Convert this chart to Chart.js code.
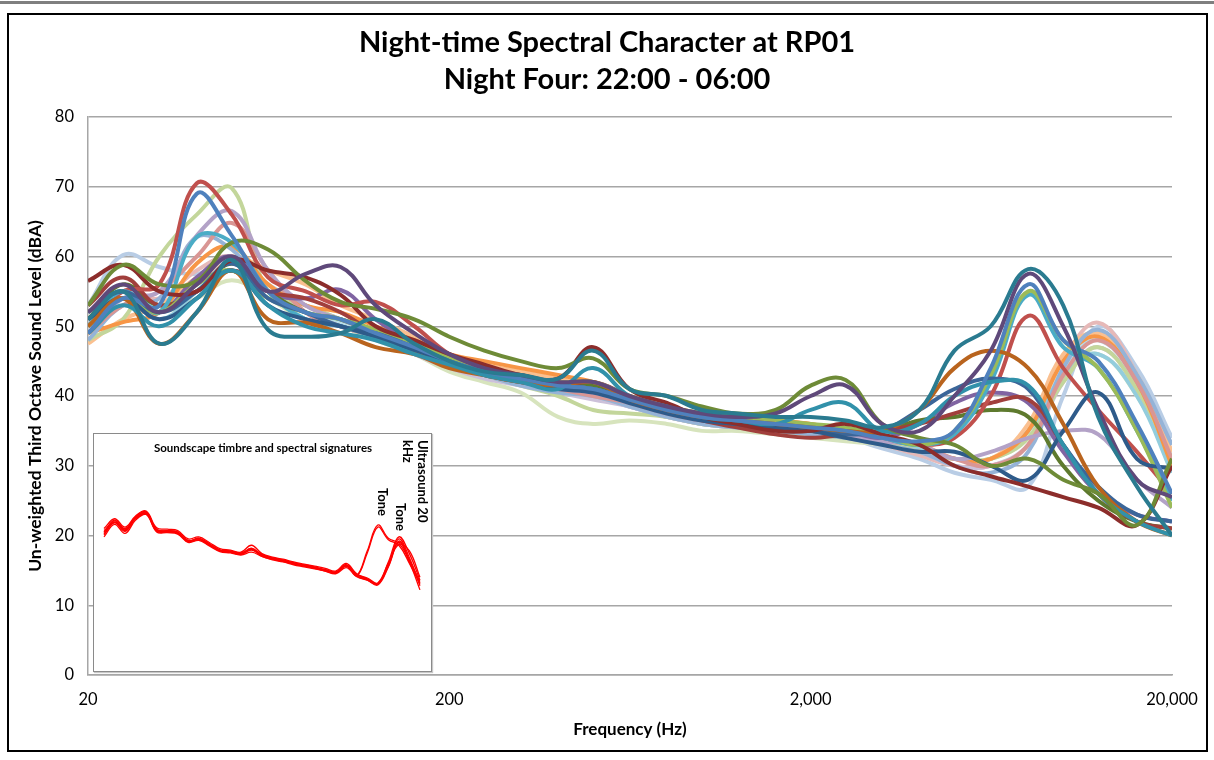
<!DOCTYPE html>
<html>
<head>
<meta charset="utf-8">
<script src="https://cdn.jsdelivr.net/npm/chart.js@4.4.1/dist/chart.umd.min.js"></script>
<style>
body{margin:0;background:#fff;}
#wrap{position:relative;width:1214px;height:760px;overflow:hidden;background:#fff;}
#topbar{position:absolute;left:0;top:1px;width:1214px;height:3px;background:#7f7f7f;}
#frame{position:absolute;left:7px;top:13px;width:1201px;height:739px;border:2px solid #000;box-sizing:border-box;pointer-events:none;}
#inset{position:absolute;left:93px;top:433px;width:339px;height:239px;border:1px solid #8a8a8a;box-sizing:border-box;background:#fff;box-shadow:1px 1px 1px #c8c8c8;}
#inset canvas, #main{display:block;}
</style>
</head>
<body>
<div id="wrap">
	<canvas id="main" width="1214" height="760"></canvas>
	<div id="inset"><canvas id="insetCanvas" width="337" height="237"></canvas></div>
	<div id="topbar"></div>
	<div id="frame"></div>
</div>
<script>
/*	Night-time spectral character, RP01 - night four
 *	third octave levels, one line per period
*/

const FONT = "Lato, 'Liberation Sans', sans-serif";

// third octave band centres (Hz)
const bands = [20, 25, 31.5, 40, 50, 63, 80, 100, 125, 160, 200, 250, 315, 400, 500, 630, 800, 1000, 1250, 1600, 2000, 2500, 3150, 4000, 5000, 6300, 8000, 10000, 12500, 16000, 20000];
const xTicks = [20, 200, 2000, 20000];

// levels, dB
const tealDark    = [51, 55, 47.5, 52, 59.5, 49.5, 48.5, 49, 51, 47.5, 45, 43.5, 43, 42.5, 46.5, 41, 40, 38, 37.5, 37, 37, 36.5, 35.5, 38, 46.5, 50, 58.2, 53, 37, 27, 20];
const tealMid     = [49, 53, 50, 54, 58, 53, 50, 49, 48, 46, 44.5, 43, 42, 41, 44, 40, 38.5, 37, 36.5, 36, 38, 39, 35, 36, 40, 42, 41.5, 33, 26, 22, 20];
const purpleDark  = [52, 56, 52, 56, 60, 55, 57.5, 58.5, 53, 49, 46, 44, 43, 42, 42, 40, 38.5, 37.5, 37, 37.5, 40, 41.5, 36, 35, 40, 46.5, 57.5, 50, 38, 28, 25.5];
const blueMain    = [49, 54, 53, 69, 63, 55, 52, 51, 49, 47, 45, 43.5, 42.5, 41.5, 41, 39.5, 38, 37, 36.5, 36, 35.5, 35, 34, 33.5, 35, 44, 56, 48, 45, 36, 26];
const greenMain   = [50, 54, 52, 56, 58, 54, 52, 51, 49.5, 47.5, 45.5, 44, 43, 42, 42, 40, 38.5, 37.5, 37, 36.5, 36, 35.5, 34.5, 33, 35, 43, 55, 48, 44, 35, 24];
const aquaMain    = [50, 55, 52, 62.8, 62, 55, 51, 50, 48.5, 47, 45, 43.5, 42.5, 41.5, 41, 39.5, 38, 37, 36.5, 36, 35.5, 35, 34, 33, 34.5, 42, 54.5, 47, 44, 35, 25];
const redMain     = [50, 55, 56, 70.5, 66, 57, 55, 53, 53.5, 50, 46, 44, 42.5, 41.5, 41, 39.5, 38, 37, 36.5, 36, 35.5, 35, 34, 33, 34, 40, 51.5, 44, 38, 32, 26];
const greenLight  = [48, 51, 60, 66, 69.8, 55, 53, 51, 49, 46.5, 44.5, 43, 41.5, 40, 38, 37.5, 37, 36, 35.5, 35, 34.5, 34, 33.5, 32, 31, 31, 34, 42, 47, 41, 31];
const orangeDark  = [50, 54, 47.5, 52, 58, 51, 50.5, 49, 47, 46, 44, 43, 42, 41.5, 42, 39.5, 38, 37, 36.5, 36, 35.5, 35, 35, 38, 44, 46.5, 44, 36, 27, 22, 20];
const navy        = [51, 54, 51, 54, 58, 53, 51, 50, 48.5, 46.5, 44.5, 43, 42, 41, 40.5, 39, 37.5, 36.5, 36, 35.5, 35, 34, 33, 32, 32, 30, 28, 35, 40.5, 31, 29.5];
const blueDark    = [52, 55, 52, 55, 59, 54, 52, 50, 49, 47, 45, 43.5, 42.5, 41.5, 41, 39.5, 38, 37, 36, 35.5, 35, 34.5, 35, 38, 41, 42.5, 41, 33, 27, 23, 22];
const redDark     = [56.5, 58.8, 55, 55, 59.5, 58, 57, 54.5, 50, 48, 46, 44.5, 43, 42.5, 47, 41, 39, 37, 36, 35, 35, 36, 34.5, 33, 30, 28.5, 27, 25.5, 24, 21.5, 30];
const redDark2    = [53, 57, 53, 55, 58, 55, 54, 52, 49, 47, 45, 43.5, 42.5, 41.5, 42, 40, 38, 36.5, 35.5, 34.5, 34, 34.5, 35, 36, 37.5, 39, 39.5, 33, 26, 22, 21];
const greenDark   = [53, 58.8, 56, 56.5, 62, 61, 56.5, 53.5, 52.5, 51, 48.5, 46.5, 45, 44, 45.4, 41, 40, 38.5, 37.5, 38, 41.5, 42.3, 36, 34, 33, 30, 31, 28, 26, 21.5, 31];
const greenOlive  = [51, 56, 53, 55, 59, 55, 52, 51, 49, 47, 45, 43.5, 42.5, 41.5, 41.5, 39.5, 38, 37, 36, 35.5, 35, 35, 35, 36.5, 37, 38, 37, 30, 25, 22, 21];
const purpleMain  = [50, 54, 52, 57, 60, 55, 54, 55.2, 51, 47.5, 45, 43.5, 42.5, 41.5, 41, 39.5, 38, 37, 36.5, 36, 35.5, 35, 34, 36, 39, 40.5, 39, 32, 26, 23, 22];
const purpleLight = [49, 54, 55, 63, 66.5, 58, 53, 51, 49, 47, 45, 43.5, 42, 41, 40.5, 39, 37.5, 36.5, 36, 35.5, 35, 34.5, 33.5, 33, 31, 32, 34, 35, 34.5, 28, 24];
const redLight    = [49, 53, 55, 60, 64.8, 58, 52, 50, 48.5, 46.5, 44.5, 43, 42, 41, 40, 39, 37.5, 36.5, 36, 35.5, 35, 34.5, 33.5, 33, 31, 30, 33, 43, 48, 42, 31];
const blueLight   = [48, 53, 54, 62.8, 61, 55, 52, 50, 48.5, 46.5, 44.5, 43, 41.5, 40.5, 40, 38.5, 37, 36, 35.5, 35, 34.5, 34, 33, 32, 30, 29, 32, 44, 49.5, 43, 33];
const orangeMain  = [49, 50.6, 52, 59, 61.4, 56, 53, 52, 50, 48, 46, 45, 44, 43, 42, 40, 38.5, 37.5, 37, 36.5, 36, 35, 34, 33, 31, 31, 35, 45, 48.5, 42, 30];
const orangeLight = [47.5, 51, 53, 57, 60, 58, 56, 53, 51, 48.5, 46, 44.5, 43.5, 42.5, 41.5, 40, 38.5, 37.5, 37, 36.5, 36, 35, 33.5, 32, 31, 31, 36, 46, 49, 43, 32];
const aquaLight   = [50, 55, 51, 55, 59, 55, 51, 50, 48.5, 46.5, 44.5, 43, 42, 41, 40.5, 39, 37.5, 36.5, 36, 35.5, 35, 34.5, 33.5, 32.5, 31, 31, 35, 43, 46, 40, 29];
const peachPale   = [50, 54, 52, 56, 59, 55, 52, 50, 48.5, 46.5, 44.5, 43.5, 43, 42, 41, 39.5, 38, 37, 36.5, 36, 35, 34, 33, 32, 31, 31, 35, 45, 49, 43, 32];
const aquaPale    = [51, 55, 53, 56, 59, 55, 52, 50.5, 49, 46.5, 44.5, 43, 42, 41, 40.5, 39, 37.5, 36.5, 36, 35.5, 35, 34, 33, 32, 31, 31, 35, 44, 48, 42, 31];
const purplePale  = [50, 54, 53, 55, 58, 55, 52, 50, 48.5, 46, 44, 42.5, 41.5, 40.5, 39.5, 38.5, 37, 36, 35.5, 35, 34.5, 34, 33, 32, 30, 30, 33, 42, 47, 41, 30];
const greenPale   = [49, 53, 52, 54, 56.6, 54, 51, 50, 48, 46, 43.5, 42, 40.5, 37, 36, 36.5, 36, 35, 35, 34.5, 34, 33.5, 33, 32, 31, 31, 34, 43, 46, 40, 30];
const pinkPale    = [50, 55, 54, 58, 60, 56, 52, 50, 48.5, 46.5, 44.5, 43, 42, 41, 40, 38.5, 37, 36, 35.5, 35, 34.5, 34, 33, 31.5, 30, 30, 33, 45, 50.5, 43, 31];
const bluePale    = [53, 60.2, 58.5, 57.5, 59.5, 56, 53, 51, 49, 47, 45, 43.5, 42, 41, 40, 38.5, 37, 36, 35.5, 35, 34.5, 34, 32.5, 31, 29, 28, 27, 40, 50, 44, 34];

// inset: band index 0..30 (20 Hz - 20 kHz), levels read on the main axis
const insetIndex = [0, 1, 2, 3, 4, 5, 6, 7, 8, 9, 10, 11, 12, 13, 14, 15, 16, 17, 18, 19, 20, 21, 22, 23, 24, 25, 26, 27, 28, 29, 30];
const insetLow1  = [20.4, 22.1, 20.8, 22.6, 23.3, 20.8, 20.7, 20.5, 19.2, 19.6, 18.8, 17.9, 17.7, 17.4, 18.2, 17.2, 16.7, 16.4, 16.0, 15.7, 15.4, 15.1, 14.7, 15.8, 14.3, 13.7, 13.0, 15.8, 19.5, 16.8, 12.8];
const insetLow2  = [19.8, 21.6, 20.3, 22.2, 23.0, 20.5, 20.4, 20.2, 19.0, 19.3, 18.5, 17.7, 17.5, 17.2, 17.6, 17.0, 16.5, 16.2, 15.8, 15.5, 15.2, 14.9, 14.5, 15.4, 14.1, 13.6, 12.9, 15.5, 19.0, 16.2, 12.2];
const insetLow3  = [21.0, 22.4, 21.2, 22.8, 23.5, 21.1, 20.9, 20.7, 19.5, 19.8, 19.0, 18.1, 17.9, 17.6, 18.6, 17.4, 16.9, 16.6, 16.2, 15.9, 15.6, 15.3, 14.9, 16.0, 14.5, 13.9, 13.2, 16.2, 19.8, 17.4, 13.6];
const insetLow4  = [20.2, 21.8, 20.6, 22.4, 23.1, 20.6, 20.5, 20.3, 19.1, 19.4, 18.6, 17.8, 17.6, 17.3, 17.9, 17.1, 16.6, 16.3, 15.9, 15.6, 15.3, 15.0, 14.6, 15.6, 14.2, 13.6, 13.1, 15.6, 19.2, 16.5, 13.2];
const insetLow5  = [20.7, 21.9, 21.0, 22.5, 23.2, 20.9, 20.6, 20.4, 19.3, 19.5, 18.7, 17.9, 17.8, 17.5, 18.0, 17.3, 16.8, 16.5, 16.1, 15.8, 15.5, 15.1, 14.8, 15.7, 14.4, 13.8, 13.1, 16.0, 18.7, 17.8, 14.0];
const insetHigh1 = [20.5, 22.2, 20.9, 22.7, 23.4, 20.8, 20.6, 20.5, 19.2, 19.6, 18.8, 17.9, 17.7, 17.4, 18.1, 17.1, 16.7, 16.4, 16.0, 15.7, 15.4, 15.0, 14.6, 15.8, 14.3, 17.8, 21.5, 19.6, 18.9, 16.4, 13.4];
const insetHigh2 = [20.1, 21.9, 20.7, 22.5, 23.2, 20.7, 20.5, 20.3, 19.1, 19.5, 18.7, 17.8, 17.6, 17.3, 18.0, 17.0, 16.6, 16.3, 15.9, 15.6, 15.3, 14.9, 14.6, 15.6, 14.2, 17.5, 21.2, 19.4, 18.6, 16.0, 13.0];

// top of list is drawn on top
const mainSeries = [
	[tealDark, "#2A7B90"], [purpleDark, "#5F497A"], [blueMain, "#4F81BD"], [greenDark, "#6E8B37"],
	[tealMid, "#3191AA"], [redDark, "#8C2D2B"], [orangeDark, "#B9641E"], [navy, "#2E5B8A"],
	[blueDark, "#3B6699"], [greenMain, "#9BBB59"], [aquaMain, "#4BACC6"], [redMain, "#C0504D"],
	[redDark2, "#A13F3C"], [greenOlive, "#5E7A2E"], [purpleMain, "#8064A2"], [purpleLight, "#B3A2C7"],
	[redLight, "#D99694"], [blueLight, "#95B3D7"], [orangeMain, "#F79646"], [greenLight, "#C3D69B"],
	[orangeLight, "#FAC090"], [aquaLight, "#93CDDD"], [peachPale, "#FCD5B5"], [aquaPale, "#B7DEE8"],
	[purplePale, "#CCC1DA"], [greenPale, "#D7E4BD"], [pinkPale, "#E6B9B8"], [bluePale, "#B9CDE5"]
];
const insetSeries = [insetHigh1, insetHigh2, insetLow1, insetLow2, insetLow3, insetLow4, insetLow5];

const axisGrey = "#a6a6a6";

new Chart(document.getElementById("main").getContext("2d"), {
	type:"line",
	data:{
		datasets: mainSeries.map(([vals, color]) => ({
			data: bands.map((f, i) => ({x:f, y:vals[i]})),
			borderColor: color,
			borderWidth: 4,
			pointRadius: 0,
			tension: 0.4,
			fill: false
		}))
	},
	options:{
		responsive:false,
		animation:false,
		layout:{padding:0},
		plugins:{
			legend:{display:false},
			tooltip:{enabled:false},
			title:{
				display:true,
				text:["Night-time Spectral Character at RP01", "Night Four: 22:00 - 06:00"],
				color:"#000",
				font:{family:FONT, size:29, weight:"bold", lineHeight:1.276},
				padding:{top:24.5, bottom:18.5}
			}
		},
		scales:{
			x:{
				type:"logarithmic",
				min:20,
				max:20000,
				afterBuildTicks: axis => { axis.ticks = xTicks.map(v => ({value:v})); },
				afterFit: axis => { axis.height = 85; },
				grid:{display:false, drawTicks:false},
				border:{display:true, color:axisGrey, width:1.5},
				ticks:{
					padding:15,
					color:"#000",
					maxRotation:0,
					autoSkip:false,
					font:{family:FONT, size:16.5},
					callback: v => Number(v).toLocaleString("en-US")
				},
				title:{
					display:true,
					text:"Frequency (Hz)",
					color:"#000",
					font:{family:FONT, size:17, weight:"bold", lineHeight:1.2},
					padding:{top:0, bottom:20}
				}
			},
			y:{
				min:0,
				max:80,
				afterFit: axis => { axis.width = 88; },
				grid:{color:axisGrey, lineWidth:1.5, drawTicks:false},
				border:{display:true, color:axisGrey, width:1.5},
				ticks:{stepSize:10, padding:14, color:"#000", font:{family:FONT, size:16.5}},
				title:{
					display:true,
					text:"Un-weighted Third Octave Sound Level (dBA)",
					color:"#000",
					font:{family:FONT, size:17.5, weight:"bold", lineHeight:1.2},
					padding:{top:24.5, bottom:0}
				}
			},
			// empty right-hand strip, keeps the plot clear of the frame
			yRight:{
				position:"right",
				min:0,
				max:80,
				afterFit: axis => { axis.width = 42; },
				grid:{display:false, drawTicks:false},
				border:{display:false},
				ticks:{display:false}
			}
		}
	}
});

// inset notes, drawn on the inset canvas
const insetLabels = {
	id:"insetLabels",
	afterDraw(chart){
		const c = chart.ctx;
		c.save();
		c.fillStyle = "#000";
		c.font = "bold 11.5px " + FONT;
		c.textAlign = "center";
		c.textBaseline = "middle";
		c.fillText("Soundscape timbre and spectral signatures", 169, 14);

		const vertical = (txt, x, y, align) => {
			c.save();
			c.translate(x, y);
			c.rotate(Math.PI / 2);
			c.textAlign = align;
			c.fillText(txt, 0, 0);
			c.restore();
		};
		c.font = "bold 13px " + FONT;
		vertical("Ultrasound 20", 327.7, 6, "left");
		vertical("kHz", 312.7, 6, "left");
		vertical("Tone", 287.7, 68, "center");
		vertical("Tone", 306, 83, "center");
		c.restore();
	}
};

new Chart(document.getElementById("insetCanvas").getContext("2d"), {
	type:"line",
	data:{
		datasets: insetSeries.map(vals => ({
			data: insetIndex.map((k, i) => ({x:k, y:vals[i]})),
			borderColor:"#ff0000",
			borderWidth:1.3,
			pointRadius:0,
			tension:0.4,
			fill:false
		}))
	},
	options:{
		responsive:false,
		animation:false,
		layout:{padding:0},
		plugins:{legend:{display:false}, tooltip:{enabled:false}},
		scales:{
			x:{type:"linear", display:false, min:-0.95, max:31.05},
			y:{display:false, min:0.57, max:34.55}
		}
	}
	,plugins:[insetLabels]
});
</script>
</body>
</html>
